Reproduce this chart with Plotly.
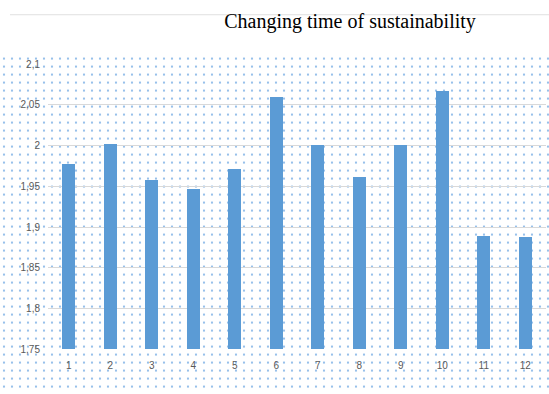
import plotly.graph_objects as go

categories = [str(i) for i in range(1, 13)]
values = [1.977, 2.002, 1.958, 1.947, 1.971, 2.059, 2.001, 1.961, 2.001, 2.067, 1.889, 1.888]
ytick_vals = [1.75, 1.8, 1.85, 1.9, 1.95, 2.0, 2.05, 2.1]
ytick_text = ["1,75", "1,8", "1,85", "1,9", "1,95", "2", "2,05", "2,1"]

W, H = 549, 394
fig = go.Figure()

# decorative dotted background (on background axes x/y)
fig.add_trace(go.Bar(
    x=[0], y=[1], xaxis="x", yaxis="y", width=1,
    marker=dict(color="white", line=dict(width=0),
                pattern=dict(shape=".", size=8, solidity=0.06,
                             fgcolor="#7fb2e6", bgcolor="white", fillmode="replace")),
    hoverinfo="skip", showlegend=False))

fig.add_trace(go.Bar(
    x=categories, y=values, xaxis="x2", yaxis="y2",
    marker=dict(color="#5b9bd5", line=dict(width=0)),
    width=0.31, showlegend=False))

fig.update_layout(
    width=W, height=H,
    margin=dict(l=0, r=0, t=0, b=0),
    paper_bgcolor="white", plot_bgcolor="rgba(0,0,0,0)",
    xaxis=dict(domain=[0, 1], range=[-0.5, 0.5], visible=False, fixedrange=True),
    yaxis=dict(domain=[0, 1 - 51 / H], range=[0, 1], visible=False, fixedrange=True),
    xaxis2=dict(domain=[48 / W, 546 / W], anchor="y2", type="category",
                showgrid=False, showline=False, ticks="", ticklabelstandoff=9,
                tickfont=dict(family="Liberation Sans", size=10, color="#595959")),
    yaxis2=dict(domain=[1 - 354 / H, 1 - 61 / H], anchor="x2",
                range=[1.75, 2.1], tickvals=ytick_vals, ticktext=ytick_text,
                showgrid=True, gridcolor="#d9d9d9", gridwidth=1,
                zeroline=False, showline=False, ticks="", ticklabelstandoff=7,
                tickfont=dict(family="Liberation Sans", size=10, color="#595959")),
    title=dict(text="Changing time of sustainability",
               x=350 / W, xanchor="center", y=1 - 21 / H, yanchor="middle",
               font=dict(family="Liberation Serif", size=20, color="black")),
    shapes=[dict(type="line", xref="paper", yref="paper",
                 x0=10 / W, x1=1, y0=1 - 10 / H, y1=1 - 10 / H,
                 line=dict(color="#e0e0e0", width=1))],
    bargap=0,
)

fig.write_html("out.html")
